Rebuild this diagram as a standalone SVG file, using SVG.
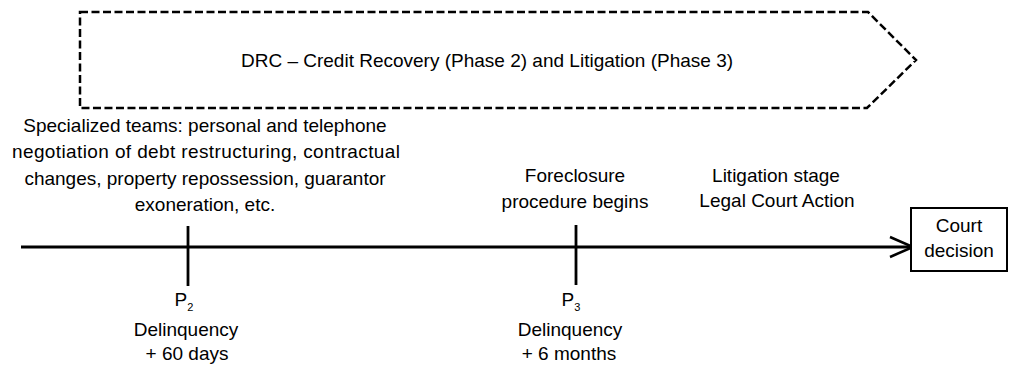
<svg xmlns="http://www.w3.org/2000/svg" width="1010" height="367" viewBox="0 0 1010 367">
  <style>
    text { font-family: "Liberation Sans", Arial, sans-serif; font-size: 19px; fill: #000; text-anchor: middle; }
    .sub { font-size: 11px; text-anchor: start; }
    .dash { fill: none; stroke: #000; stroke-width: 2.5; stroke-dasharray: 8 3.5; }
    .line { fill: none; stroke: #000; stroke-width: 2.8; }
    .box { fill: #fff; stroke: #000; stroke-width: 2; }
  </style>
  <defs>
    <marker id="open" markerWidth="26" markerHeight="24" refX="24" refY="12" orient="auto" markerUnits="userSpaceOnUse">
      <path d="M1,2 L24,12 L1,22" fill="none" stroke="#000" stroke-width="2.5"/>
    </marker>
  </defs>
  <g id="phase-banner">
    <path class="dash" d="M80,12 L868,12 L916,60 L867,108 L80,108 Z"/>
    <text x="487" y="67">DRC – Credit Recovery (Phase 2) and Litigation (Phase 3)</text>
  </g>
  <g id="connectors">
    <line class="line" x1="21" y1="247" x2="913" y2="247" marker-end="url(#open)"/>
  </g>
  <g id="p2">
    <line class="line" x1="188" y1="226" x2="188" y2="286"/>
    <text x="205" y="132">Specialized teams: personal and telephone</text>
    <text x="206" y="158" textLength="388" lengthAdjust="spacing">negotiation of debt restructuring, contractual</text>
    <text x="205" y="185">changes, property repossession, guarantor</text>
    <text x="205" y="211">exoneration, etc.</text>
    <text x="184" y="306">P<tspan class="sub" dy="5">2</tspan></text>
    <text x="186" y="336">Delinquency</text>
    <text x="187" y="360">+ 60 days</text>
  </g>
  <g id="p3">
    <line class="line" x1="576" y1="225" x2="576" y2="285"/>
    <text x="575" y="182">Foreclosure</text>
    <text x="575" y="208">procedure begins</text>
    <text x="571" y="306">P<tspan class="sub" dy="5">3</tspan></text>
    <text x="570" y="336">Delinquency</text>
    <text x="569" y="360">+ 6 months</text>
  </g>
  <g id="litigation">
    <text x="776" y="182">Litigation stage</text>
    <text x="777" y="207">Legal Court Action</text>
  </g>
  <g id="court-decision">
    <rect class="box" x="911" y="208" width="96" height="63"/>
    <text x="959" y="232">Court</text>
    <text x="959" y="257">decision</text>
  </g>
</svg>
